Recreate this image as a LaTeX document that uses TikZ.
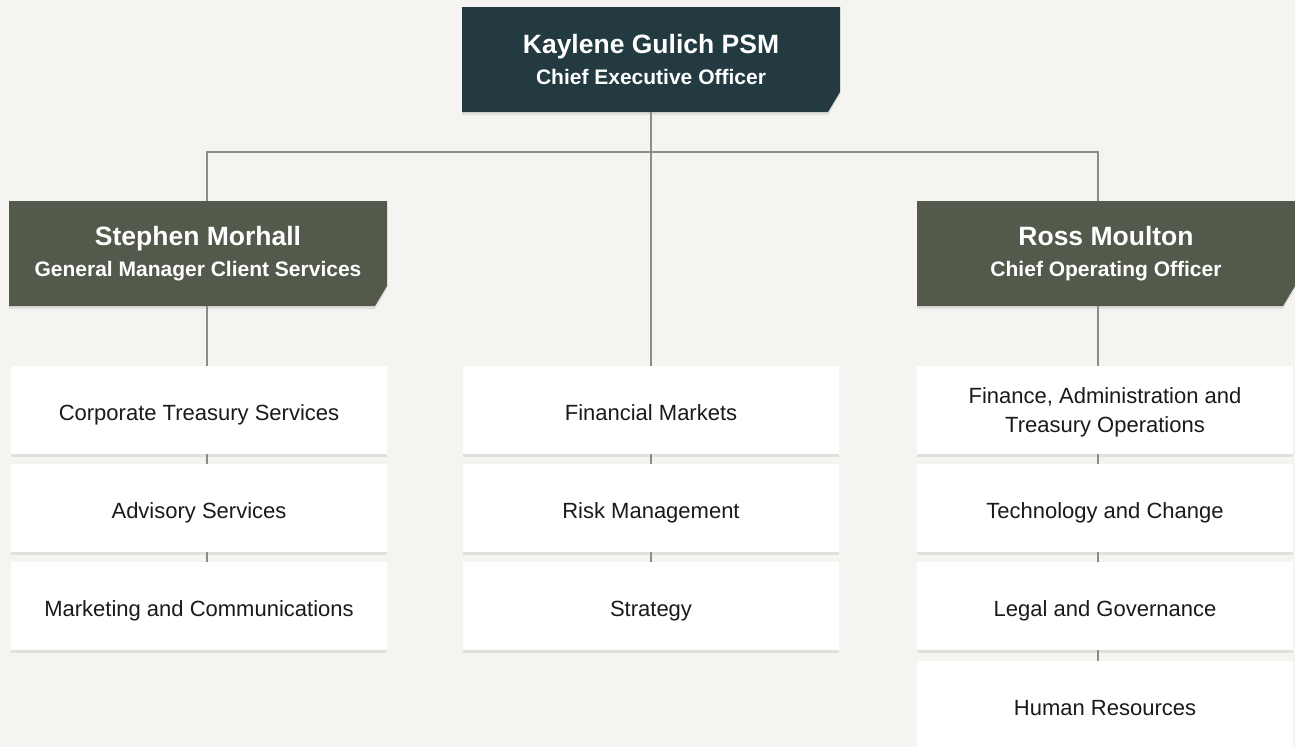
\documentclass[tikz,border=0pt]{standalone}
\usepackage{fontspec}
\setmainfont{Liberation Sans}
\usetikzlibrary{positioning,shadows,backgrounds}

\definecolor{paper}{HTML}{F5F4F0}
\definecolor{ceoteal}{HTML}{233A40}
\definecolor{mgrolive}{HTML}{545A4B}
\definecolor{linkgrey}{HTML}{8C8C84}
\definecolor{ink}{HTML}{1A1A1A}

\pgfdeclarelayer{paperlayer}
\pgfsetlayers{paperlayer,background,main}

\tikzset{
    softshadow/.style={drop shadow={shadow xshift=0pt,shadow yshift=-3pt,opacity=.08,fill=black}},
    head/.style={rectangle,minimum width=378pt,minimum height=105pt,inner sep=0pt,outer sep=0pt,
        text=white,align=center,font=\fontsize{21}{31}\selectfont\bfseries},
    unit/.style={rectangle,fill=white,minimum width=376pt,minimum height=88pt,
        inner sep=0pt,outer sep=0pt,text=ink,align=center,text height=21pt,text depth=1pt,
        font=\fontsize{22}{29}\selectfont,softshadow},
    twoline/.style={text height=,text depth=-3pt},
    link/.style={draw=linkgrey,line width=1.2pt}
}
\newcommand{\headname}[1]{{\fontsize{26.5}{31}\selectfont #1}}

\begin{document}
\begin{tikzpicture}[x=1pt,y=-1pt]
        \begin{pgfonlayer}{paperlayer}
            \fill[paper] (0,0) rectangle (1295,747);
        \end{pgfonlayer}
        \useasboundingbox (0,0) rectangle (1295,747);

        \coordinate (bus) at (651,152);
        \coordinate (lcol) at (207,0);
        \coordinate (ccol) at (651,0);
        \coordinate (rcol) at (1098,0);

        \node[head] (ceo) at (651,59.5)
            {\headname{Kaylene Gulich PSM}\\Chief Executive Officer};
        \node[head] (gmcs) at (198,253.5)
            {\headname{Stephen Morhall}\\General Manager Client Services};
        \node[head] (coo) at (1106,253.5)
            {\headname{Ross Moulton}\\Chief Operating Officer};

        % boxes with the cut corner
        \begin{scope}[on background layer]
            \fill[ceoteal,softshadow] (ceo.north west) -- (ceo.north east) -- ([yshift=20pt]ceo.south east)
                -- ([xshift=-12pt]ceo.south east) -- (ceo.south west) -- cycle;
            \fill[mgrolive,softshadow] (gmcs.north west) -- (gmcs.north east) -- ([yshift=20pt]gmcs.south east)
                -- ([xshift=-12pt]gmcs.south east) -- (gmcs.south west) -- cycle;
            \fill[mgrolive,softshadow] (coo.north west) -- (coo.north east) -- ([yshift=20pt]coo.south east)
                -- ([xshift=-12pt]coo.south east) -- (coo.south west) -- cycle;
        \end{scope}

        \node[unit] (cts) at (199,410) {Corporate Treasury Services};
        \node[unit] (adv) at (199,508) {Advisory Services};
        \node[unit] (mkt) at (199,606) {Marketing and Communications};

        \node[unit] (fin) at (651,410) {Financial Markets};
        \node[unit] (risk) at (651,508) {Risk Management};
        \node[unit] (strat) at (651,606) {Strategy};

        \node[unit,twoline] (fato) at (1105,410) {Finance, Administration and\\Treasury Operations};
        \node[unit] (tech) at (1105,508) {Technology and Change};
        \node[unit] (legal) at (1105,606) {Legal and Governance};
        \node[unit] (hr) at (1105,705) {Human Resources};

        \draw[link] (ceo.south -| ccol) -- (fin.north -| ccol);
        \draw[link] (gmcs.north -| lcol) |- (bus) -| (coo.north -| rcol);

        \draw[link] (gmcs.south -| lcol) -- (cts.north -| lcol);
        \draw[link] (cts.south -| lcol) -- (adv.north -| lcol);
        \draw[link] (adv.south -| lcol) -- (mkt.north -| lcol);

        \draw[link] (fin.south -| ccol) -- (risk.north -| ccol);
        \draw[link] (risk.south -| ccol) -- (strat.north -| ccol);

        \draw[link] (coo.south -| rcol) -- (fato.north -| rcol);
        \draw[link] (fato.south -| rcol) -- (tech.north -| rcol);
        \draw[link] (tech.south -| rcol) -- (legal.north -| rcol);
        \draw[link] (legal.south -| rcol) -- (hr.north -| rcol);
    \end{tikzpicture}
\end{document}
